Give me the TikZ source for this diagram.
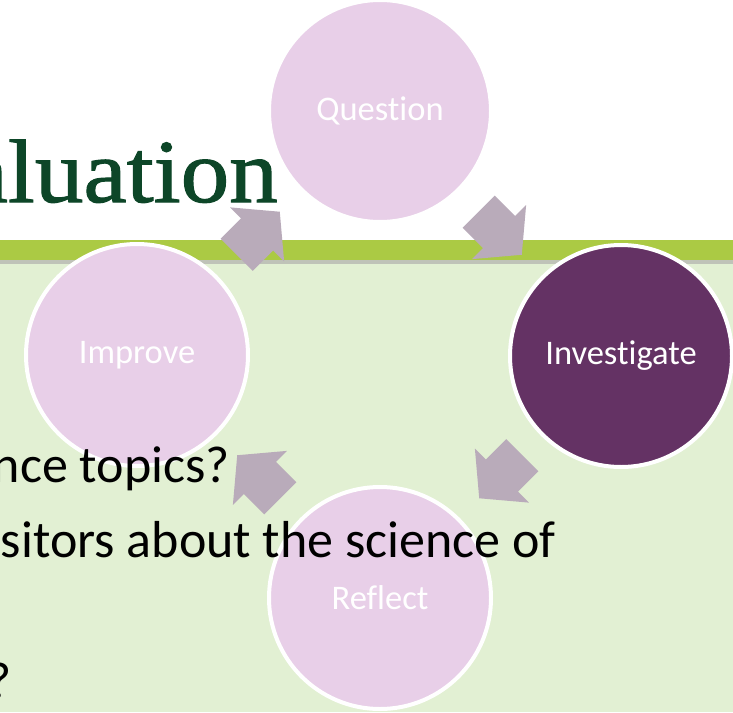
\documentclass[tikz,border=0pt]{standalone}
\usepackage{fontspec}
\setmainfont{Carlito}[Ligatures=NoCommon]
\newfontfamily\titlefont[FakeStretch=1.08, FakeBold=1.2]{Liberation Serif}
\usetikzlibrary{shapes.arrows,calc}
\definecolor{rosa}{HTML}{E8CFE8}
\definecolor{morado}{HTML}{643264}
\definecolor{gris}{HTML}{B9ABBA}
\definecolor{banda}{HTML}{ABCA44}
\definecolor{sombra}{HTML}{BFC3B8}
\definecolor{panel}{HTML}{E2F0D3}
\definecolor{titulo}{HTML}{0D4628}
\begin{document}
\begin{tikzpicture}[
    x=1pt, y=-1pt,
    every node/.style={font=\fontsize{34.5}{40}\selectfont},
    stage/.style={circle, draw=white, line width=4pt, fill=rosa, minimum size=222pt, inner sep=0pt, text=white},
    active/.style={stage, fill=morado},
    cyclearrow/.style={single arrow, fill=gris, anchor=tail, minimum height=61pt, inner xsep=0pt, inner ysep=22.5pt, single arrow head extend=15.5pt, single arrow tip angle=100},
    bullet/.style={anchor=base east, inner sep=0pt, font=\fontsize{52}{62}\selectfont}
]
\useasboundingbox (0,0) rectangle (733,712);
% Slide
\fill[white] (0,0) rectangle (733,240);
\fill[banda] (0,240) rectangle (733,260);
\fill[sombra] (0,260) rectangle (733,264);
\fill[panel] (0,264) rectangle (733,712);
\node[anchor=base east, inner sep=0pt, text=titulo, font=\titlefont\fontsize{90}{96}\selectfont] (heading) at (278,202) {aluation};
% Stages
\node[stage] (question) at (380,111) {Question};
\node[active] (investigate) at (621,356) {Investigate};
\node[stage] (reflect) at (380,598) {Reflect};
\node[stage] (improve) at (137,355) {Improve};
% Arrows
\node[cyclearrow, rotate=-45] (arrow1) at ($(question)!0.5!(investigate)+(-22,-22)$) {};
\node[cyclearrow, rotate=-135] (arrow2) at ($(investigate)!0.5!(reflect)+(22,-22)$) {};
\node[cyclearrow, rotate=135] (arrow3) at ($(reflect)!0.5!(improve)+(22,22)$) {};
\node[cyclearrow, rotate=45] (arrow4) at ($(improve)!0.5!(question)+(-22,22)$) {};
% Text
\node[bullet] (line1) at (230,482) {nce topics?};
\node[bullet] (line2) at (556,557) {sitors about the science of};
\node[bullet] (line3) at (12,698) {?};
\end{tikzpicture}
\end{document}
